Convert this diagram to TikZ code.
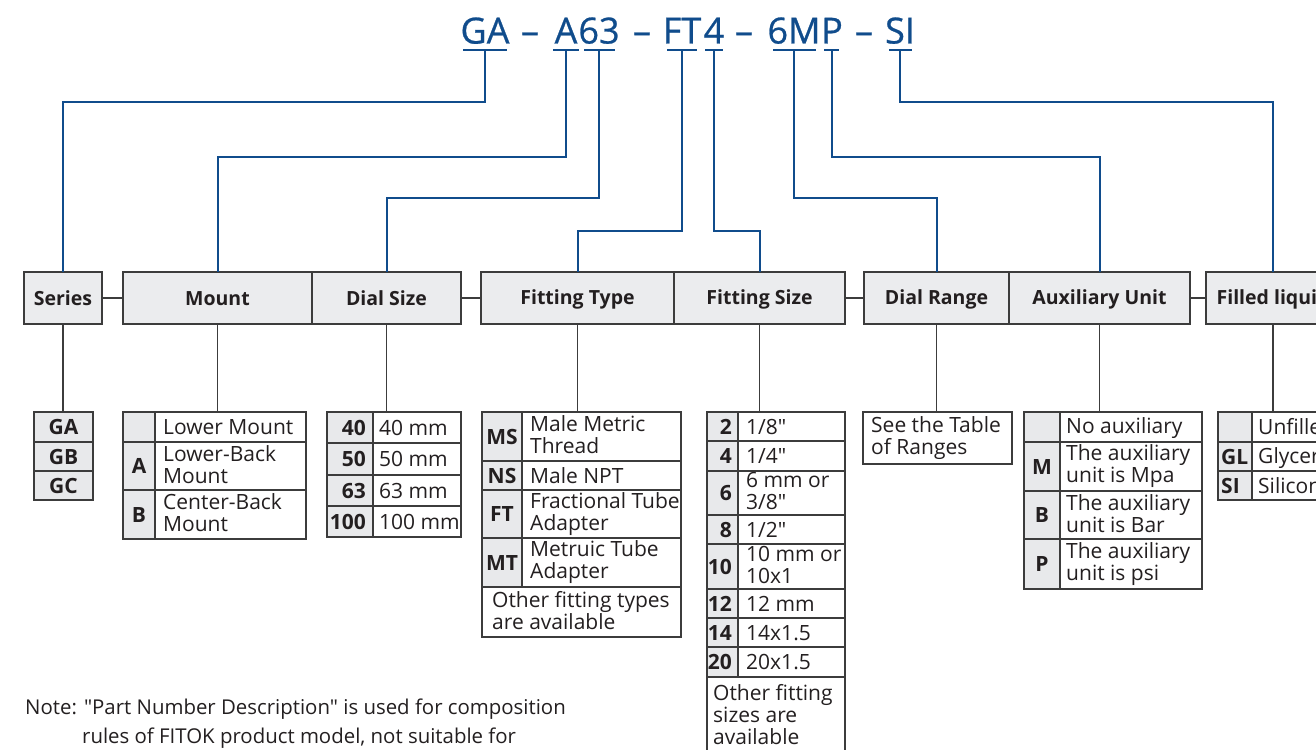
\documentclass[tikz,border=0pt]{standalone}
\usepackage{fontspec}
\setmainfont{Open Sans}[Ligatures=TeXOff]
\newfontfamily\ttlfam{Open Sans}[FakeBold=0.7]
\definecolor{ttblue}{RGB}{16,76,140}
\definecolor{lnc}{RGB}{60,60,60}
\definecolor{hdrfill}{RGB}{235,236,238}
\definecolor{codefill}{RGB}{232,233,235}
\definecolor{txtc}{RGB}{35,31,32}
\newcommand\bodyf{\fontsize{21}{22}\selectfont}
\newcommand\hdrf{\fontsize{19.5}{22}\selectfont\bfseries}
\newcommand\ttlf{\ttlfam\fontsize{36}{40}\selectfont}
\newcommand\cst{\rule[-3.5pt]{0pt}{22pt}}
\newcommand\qq{\symbol{34}}
\def\pd{7}
\newcommand\tcell[8]{%
 \pgfmathsetmacro\cw{#4-#2}%
 \pgfmathsetmacro\ch{#5-#3}%
 \pgfmathsetmacro\cx{(#2+#4)/2}%
 \pgfmathsetmacro\cy{(#3+#5)/2}%
 \node[cellbox,#6,minimum width=\cw pt,minimum height=\ch pt] (#1) at (\cx,\cy) {};%
 \if l#7\node[txt,anchor=west,align=left] (#1t) at ([xshift=\pd pt]#1.west) {#8};\fi
 \if r#7\node[txt,anchor=east,align=right] (#1t) at ([xshift=-\pd pt]#1.east) {#8};\fi
 \if c#7\node[txt,align=center] (#1t) at (#1.center) {#8};\fi
}
\begin{document}
\begin{tikzpicture}[x=1pt,y=-1pt,
  bl/.style={draw=ttblue,line width=2pt},
  gl/.style={draw=lnc,line width=1.4pt},
  cellbox/.style={draw=lnc,line width=1.4pt,fill=white,inner sep=0pt,outer sep=0pt},
  code/.style={fill=codefill},
  hdr/.style={fill=hdrfill},
  txt/.style={inner sep=0pt,text=txtc,font=\bodyf,execute at begin node=\cst,execute at end node=\cst},
  ttl/.style={inner sep=0pt,anchor=base,text=ttblue,font=\ttlf},
  notet/.style={inner sep=0pt,anchor=base west,text=txtc,font=\fontsize{20.4}{22}\selectfont}
]
\useasboundingbox (0,0) rectangle (1316,749);
\clip (0,0) rectangle (1316,749);
\fill[white] (0,0) rectangle (1316,749);

% ---- title ----
\node[ttl] (tGA) at (485,43.5) {GA};
\node[ttl] (d1) at (530,43.5) {–};
\node[ttl] (tA) at (566,43.5) {A};
\node[ttl] (t63) at (599,43.5) {63};
\node[ttl] (d2) at (642,43.5) {–};
\node[ttl] (tFT) at (682,43.5) {FT};
\node[ttl] (t4) at (714,43.5) {4};
\node[ttl] (d3) at (744,43.5) {–};
\node[ttl] (t6M) at (794,43.5) {6M};
\node[ttl] (tP) at (832,43.5) {P};
\node[ttl] (d4) at (864,43.5) {–};
\node[ttl] (tSI) at (900,43.5) {SI};

\coordinate (uGA) at (485,50);
\coordinate (uA) at (566,50);
\coordinate (u63) at (599,50);
\coordinate (uFT) at (682,50);
\coordinate (u4) at (714,50);
\coordinate (u6M) at (794,50);
\coordinate (uP) at (832,50);
\coordinate (uSI) at (900,50);
\draw[bl] (463,50) -- (507,50);
\draw[bl] (553,50) -- (579,50);
\draw[bl] (584,50) -- (615,50);
\draw[bl] (667,50) -- (697,50);
\draw[bl] (705,50) -- (723,50);
\draw[bl] (773,50) -- (816,50);
\draw[bl] (824,50) -- (839,50);
\draw[bl] (889,50) -- (912,50);

% ---- headers ----
\def\pd{0}
\tcell{hser}{24}{272}{102}{324}{hdr}{c}{\hdrf Series}
\tcell{hmount}{123}{272}{312}{324}{hdr}{c}{\hdrf Mount}
\tcell{hdial}{312}{272}{461}{324}{hdr}{c}{\hdrf Dial Size}
\tcell{hftype}{481}{272}{674}{324}{hdr}{c}{\hdrf Fitting Type}
\tcell{hfsize}{674}{272}{845}{324}{hdr}{c}{\hdrf Fitting Size}
\tcell{hrange}{864}{272}{1009}{324}{hdr}{c}{\hdrf Dial Range}
\tcell{haux}{1009}{272}{1190}{324}{hdr}{c}{\hdrf Auxiliary Unit}
\tcell{hfill}{1206}{272}{1340}{324}{hdr}{c}{\hdrf Filled liquid}

% ---- blue connectors ----
\draw[bl] (uGA) -- ++(0,52) -| (hser.north);
\draw[bl] (uA) -- ++(0,107) -| (hmount.north);
\draw[bl] (u63) -- ++(0,148) -| (hdial.north);
\draw[bl] (uFT) -- ++(0,181) -| (hftype.north);
\draw[bl] (u4) -- ++(0,181) -| (hfsize.north);
\draw[bl] (u6M) -- ++(0,148) -| (hrange.north);
\draw[bl] (uP) -- ++(0,107) -| (haux.north);
\draw[bl] (uSI) -- ++(0,52) -| (hfill.north);

% ---- series ----
\def\pd{0}
\tcell{s1}{34}{412}{93}{442}{code}{c}{\textbf{GA}}
\tcell{s2}{34}{442}{93}{471}{code}{c}{\textbf{GB}}
\tcell{s3}{34}{471}{93}{500}{code}{c}{\textbf{GC}}

% ---- mount ----
\def\pd{8}
\tcell{mc1}{123}{412}{155}{442}{code}{c}{}
\tcell{mo1}{155}{412}{306}{442}{}{l}{Lower Mount}
\tcell{mc2}{123}{442}{155}{490}{code}{c}{\textbf{A}}
\tcell{mo2}{155}{442}{306}{490}{}{l}{Lower-Back\\Mount}
\tcell{mc3}{123}{490}{155}{539}{code}{c}{\textbf{B}}
\tcell{mo3}{155}{490}{306}{539}{}{l}{Center-Back\\Mount}

% ---- dial size ----
\def\pd{7}
\tcell{dc1}{327}{412}{373}{443}{code}{r}{\textbf{40}}
\tcell{dc2}{327}{443}{373}{475}{code}{r}{\textbf{50}}
\tcell{dc3}{327}{475}{373}{506}{code}{r}{\textbf{63}}
\tcell{dc4}{327}{506}{373}{537}{code}{r}{\textbf{100}}
\def\pd{6}
\tcell{ds1}{373}{412}{461}{443}{}{l}{40 mm}
\tcell{ds2}{373}{443}{461}{475}{}{l}{50 mm}
\tcell{ds3}{373}{475}{461}{506}{}{l}{63 mm}
\tcell{ds4}{373}{506}{461}{537}{}{l}{100 mm}

% ---- fitting type ----
\def\pd{0}
\tcell{fc1}{482}{412}{522}{461}{code}{c}{\textbf{MS}}
\tcell{fc2}{482}{461}{522}{490}{code}{c}{\textbf{NS}}
\tcell{fc3}{482}{490}{522}{538}{code}{c}{\textbf{FT}}
\tcell{fc4}{482}{538}{522}{587}{code}{c}{\textbf{MT}}
\def\pd{8}
\tcell{ft1}{522}{412}{681}{461}{}{l}{Male Metric\\Thread}
\tcell{ft2}{522}{461}{681}{490}{}{l}{Male NPT}
\tcell{ft3}{522}{490}{681}{538}{}{l}{Fractional Tube\\Adapter}
\tcell{ft4}{522}{538}{681}{587}{}{l}{Metruic Tube\\Adapter}
\def\pd{10}
\tcell{ft5}{482}{587}{681}{637}{}{l}{Other fitting types\\are available}

% ---- fitting size ----
\def\pd{6}
\tcell{zc1}{707}{412}{738}{441}{code}{r}{\textbf{2}}
\tcell{zc2}{707}{441}{738}{471}{code}{r}{\textbf{4}}
\tcell{zc3}{707}{471}{738}{515}{code}{r}{\textbf{6}}
\tcell{zc4}{707}{515}{738}{544}{code}{r}{\textbf{8}}
\tcell{zc5}{707}{544}{738}{589}{code}{r}{\textbf{10}}
\tcell{zc6}{707}{589}{738}{618}{code}{r}{\textbf{12}}
\tcell{zc7}{707}{618}{738}{647}{code}{r}{\textbf{14}}
\tcell{zc8}{707}{647}{738}{677}{code}{r}{\textbf{20}}
\def\pd{8}
\tcell{zs1}{738}{412}{845}{441}{}{l}{1/8\qq}
\tcell{zs2}{738}{441}{845}{471}{}{l}{1/4\qq}
\tcell{zs3}{738}{471}{845}{515}{}{l}{6 mm or\\3/8\qq}
\tcell{zs4}{738}{515}{845}{544}{}{l}{1/2\qq}
\tcell{zs5}{738}{544}{845}{589}{}{l}{10 mm or\\10x1}
\tcell{zs6}{738}{589}{845}{618}{}{l}{12 mm}
\tcell{zs7}{738}{618}{845}{647}{}{l}{14x1.5}
\tcell{zs8}{738}{647}{845}{677}{}{l}{20x1.5}
\def\pd{6}
\tcell{zs9}{707}{677}{845}{756}{}{l}{Other fitting\\sizes are\\available}

% ---- dial range ----
\def\pd{8}
\tcell{dr1}{863}{412}{1012}{464}{}{l}{See the Table\\of Ranges}

% ---- auxiliary unit ----
\def\pd{0}
\tcell{ac1}{1024}{412}{1060}{442}{code}{c}{}
\tcell{ac2}{1024}{442}{1060}{491}{code}{c}{\textbf{M}}
\tcell{ac3}{1024}{491}{1060}{539}{code}{c}{\textbf{B}}
\tcell{ac4}{1024}{539}{1060}{589}{code}{c}{\textbf{P}}
\def\pd{6}
\tcell{au1}{1060}{412}{1202}{442}{}{l}{No auxiliary}
\tcell{au2}{1060}{442}{1202}{491}{}{l}{The auxiliary\\unit is Mpa}
\tcell{au3}{1060}{491}{1202}{539}{}{l}{The auxiliary\\unit is Bar}
\tcell{au4}{1060}{539}{1202}{589}{}{l}{The auxiliary\\unit is psi}

% ---- filled liquid ----
\def\pd{3}
\tcell{lc1}{1218}{412}{1252}{442}{code}{l}{}
\tcell{lc2}{1218}{442}{1252}{471}{code}{l}{\textbf{GL}}
\tcell{lc3}{1218}{471}{1252}{500}{code}{l}{\textbf{SI}}
\def\pd{6}
\tcell{lf1}{1252}{412}{1345}{442}{}{l}{Unfilled}
\tcell{lf2}{1252}{442}{1345}{471}{}{l}{Glycerin}
\tcell{lf3}{1252}{471}{1345}{500}{}{l}{Silicone oil}

% ---- gray connectors ----
\draw[gl] (hser.east) -- (hmount.west);
\draw[gl] (hdial.east) -- (hftype.west);
\draw[gl] (hfsize.east) -- (hrange.west);
\draw[gl] (haux.east) -- (hfill.west);
\draw[gl] (hser.south) -- (hser.south |- s1.north);
\draw[gl] (hmount.south) -- (hmount.south |- mo1.north);
\draw[gl] (hdial.south) -- (hdial.south |- ds1.north);
\draw[gl] (hftype.south) -- (hftype.south |- ft1.north);
\draw[gl] (hfsize.south) -- (hfsize.south |- zs1.north);
\draw[gl] (hrange.south) -- (hrange.south |- dr1.north);
\draw[gl] (haux.south) -- (haux.south |- au1.north);
\draw[gl] (hfill.south) -- (hfill.south |- lf1.north);

% ---- note ----
\node[notet] (note1) at (25,714) {Note: \qq Part Number Description\qq{} is used for composition};
\node[notet] (note2) at (82,743) {rules of FITOK product model, not suitable for};
\end{tikzpicture}
\end{document}
